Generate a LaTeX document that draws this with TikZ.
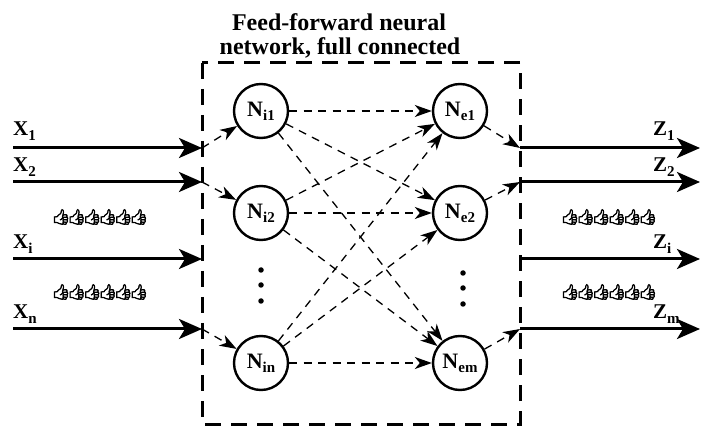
\documentclass[tikz,border=0pt]{standalone}
\usepackage{fontspec}
\setmainfont{Liberation Serif}
\newfontfamily\emojifont[FakeBold=4]{Noto Emoji}
\usetikzlibrary{arrows.meta}

% label with a lowered, smaller index
\newcommand{\iolab}[2]{#1\raisebox{-5pt}{\fontsize{15}{15}\selectfont #2}}
\newcommand{\nlab}[2]{#1\raisebox{-4pt}{\fontsize{15}{15}\selectfont #2}}
% row of six thumbs, set close together
\newcommand{\thumbrow}{👍\kern-3.5pt👍\kern-3.5pt👍\kern-3.5pt👍\kern-3.5pt👍\kern-3.5pt👍}

\tikzset{
  neuron/.style={circle, draw, line width=2.4pt, minimum size=54pt, inner sep=0pt,
                 font=\bfseries\fontsize{22}{22}\selectfont, fill=white},
  conn/.style={line width=1.3pt, dash pattern=on 8pt off 6.5pt,
               -{Stealth[length=17pt, width=12pt, inset=5pt]}},
  bigarrow/.style={line width=3pt, -{Stealth[length=23pt, width=20pt, inset=6pt]}},
  netbox/.style={line width=3pt, dash pattern=on 16pt off 10pt},
  iolabel/.style={anchor=base west, inner sep=0pt, font=\bfseries\fontsize{21}{21}\selectfont},
  hands/.style={inner sep=0pt, font=\emojifont\fontsize{15}{15}\selectfont},
  dot/.style={circle, fill, inner sep=0pt, minimum size=5.5pt},
  title/.style={align=center, inner sep=0pt, font=\bfseries\fontsize{24}{24}\selectfont}
}

\begin{document}
\begin{tikzpicture}[x=1pt, y=-1pt]
\useasboundingbox (0,0) rectangle (701,427);

% title
\node[title, anchor=base] (t1) at (339,31) {Feed-forward neural};
\node[title, anchor=base] (t2) at (340,55) {network, full connected};

% network boundary
\draw[netbox] (202,63) rectangle (520,424);

% entry and exit points on the boundary
\coordinate (bx1) at (202,148);
\coordinate (bx2) at (202,182);
\coordinate (bxi) at (202,259);
\coordinate (bxn) at (202,329);
\coordinate (bz1) at (520,148);
\coordinate (bz2) at (520,182);
\coordinate (bzi) at (520,259);
\coordinate (bzm) at (520,329);

\coordinate (sx1) at (13,148);
\coordinate (sx2) at (13,182);
\coordinate (sxi) at (13,259);
\coordinate (sxn) at (13,329);
\coordinate (ez1) at (700,148);
\coordinate (ez2) at (700,182);
\coordinate (ezi) at (700,259);
\coordinate (ezm) at (700,329);

% inputs
\draw[bigarrow] (sx1) -- (bx1);
\draw[bigarrow] (sx2) -- (bx2);
\draw[bigarrow] (sxi) -- (bxi);
\draw[bigarrow] (sxn) -- (bxn);
\node[iolabel] (lx1) at (13,136) {\iolab{X}{1}};
\node[iolabel] (lx2) at (13,172) {\iolab{X}{2}};
\node[iolabel] (lxi) at (13,249) {\iolab{X}{i}};
\node[iolabel] (lxn) at (13,319) {\iolab{X}{n}};
\node[hands] (hx1) at (100,217) {\thumbrow};
\node[hands] (hx2) at (100,292) {\thumbrow};

% outputs
\draw[bigarrow] (bz1) -- (ez1);
\draw[bigarrow] (bz2) -- (ez2);
\draw[bigarrow] (bzi) -- (ezi);
\draw[bigarrow] (bzm) -- (ezm);
\node[iolabel] (lz1) at (653,136) {\iolab{Z}{1}};
\node[iolabel] (lz2) at (653,172) {\iolab{Z}{2}};
\node[iolabel] (lzi) at (653,249) {\iolab{Z}{i}};
\node[iolabel] (lzm) at (653,319) {\iolab{Z}{m}};
\node[hands] (hz1) at (609,217) {\thumbrow};
\node[hands] (hz2) at (609,292) {\thumbrow};

% neurons
\node[neuron] (ni1) at (261,111) {\nlab{N}{i1}};
\node[neuron] (ni2) at (261,213) {\nlab{N}{i2}};
\node[neuron] (nin) at (261,363) {\nlab{N}{in}};
\node[neuron] (ne1) at (460,111) {\nlab{N}{e1}};
\node[neuron] (ne2) at (460,213) {\nlab{N}{e2}};
\node[neuron] (nem) at (460,363) {\nlab{N}{em}};

\node[dot] (di1) at (261,270) {};
\node[dot] (di2) at (261,285) {};
\node[dot] (di3) at (261,301) {};
\node[dot] (de1) at (463,273) {};
\node[dot] (de2) at (463,288) {};
\node[dot] (de3) at (463,304) {};

% boundary to input layer
\draw[conn] (bx1) -- (ni1);
\draw[conn] (bx2) -- (ni2);
\draw[conn] (bxn) -- (nin);

% full connections
\foreach \a in {ni1,ni2,nin}
  \foreach \b in {ne1,ne2,nem}
    \draw[conn] (\a) -- (\b);

% output layer to boundary
\draw[conn] (ne1) -- (bz1);
\draw[conn] (ne2) -- (bz2);
\draw[conn] (nem) -- (bzm);
\end{tikzpicture}
\end{document}
